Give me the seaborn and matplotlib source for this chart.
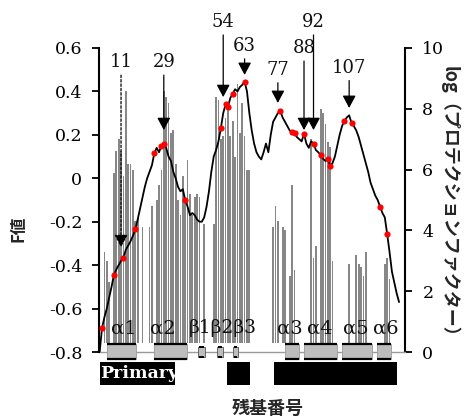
import numpy as np
import pandas as pd
import matplotlib
matplotlib.use("Agg")
import matplotlib.pyplot as plt
from matplotlib.patches import Rectangle
import seaborn as sns

# ----------------------------------------------------------------------
# data
# ----------------------------------------------------------------------
residues = list(range(2, 129))
f_values = [
    -0.80, -0.69, -0.64, -0.60, -0.55, -0.50, -0.446, -0.42, -0.40, -0.38,
    -0.365, -0.33, -0.31, -0.29, -0.265, -0.235, -0.19, -0.14, -0.09, -0.04,
    0.00, 0.03, 0.06, 0.115, 0.14, 0.12, 0.15, 0.16, 0.14, 0.10,
    0.08, 0.03, 0.00, -0.04, -0.06, -0.05, -0.10, -0.13, -0.17, -0.16,
    -0.17, -0.19, -0.20, -0.20, -0.18, -0.13, -0.06, 0.03, 0.10, 0.13,
    0.17, 0.23, 0.30, 0.34, 0.33, 0.37, 0.39, 0.41, 0.40, 0.42,
    0.43, 0.445, 0.40, 0.30, 0.22, 0.16, 0.12, 0.10, 0.087, 0.12,
    0.16, 0.12, 0.20, 0.26, 0.28, 0.30, 0.31, 0.28, 0.26, 0.24,
    0.22, 0.212, 0.207, 0.19, 0.18, 0.17, 0.205, 0.16, 0.14, 0.17,
    0.16, 0.13, 0.12, 0.107, 0.09, 0.08, 0.09, 0.058, 0.07, 0.10,
    0.15, 0.20, 0.24, 0.265, 0.28, 0.29, 0.255, 0.24, 0.22, 0.19,
    0.15, 0.11, 0.07, 0.03, -0.02, -0.05, -0.08, -0.10, -0.13, -0.16,
    -0.18, -0.257, -0.34, -0.43, -0.48, -0.53, -0.57,
]
red_residues = [3, 8, 12, 17, 25, 28, 29, 38, 53, 55, 56, 58, 63, 78, 83, 84,
                88, 92, 95, 98, 99, 105, 108, 120, 123]

bar_residues = [4, 5, 6, 8, 9, 10, 11, 12, 13, 14, 15, 16, 17, 18, 20, 23, 24,
                26, 27, 28, 29, 30, 31, 32, 33, 34, 35, 36, 37, 38, 39, 40, 41,
                42, 43, 44, 46, 50, 51, 52, 53, 54, 55, 56, 57, 58, 59, 60, 61,
                62, 63, 64, 65, 75, 76, 77, 79, 80, 82, 83, 84, 91, 92, 93, 95,
                96, 97, 98, 99, 100, 107, 110, 111, 112, 113, 114, 122, 123, 124]
log_pf = [3.3, 3.0, 2.3, 5.9, 6.6, 7.0, 6.6, 5.8, 8.6, 6.2, 6.2, 6.0, 4.3, 4.4,
          4.1, 4.1, 4.8, 5.0, 5.5, 6.0, 8.6, 8.4, 8.2, 7.2, 7.3, 6.2, 5.0, 4.5,
          5.8, 4.9, 6.3, 5.2, 4.5, 5.1, 5.2, 5.1, 4.2, 4.2, 8.4, 8.3, 7.0, 7.1,
          7.7, 8.0, 7.1, 7.6, 6.4, 8.8, 7.2, 8.2, 7.1, 6.0, 6.0, 4.1, 4.8, 4.3,
          4.1, 4.0, 2.5, 5.5, 2.7, 7.0, 3.1, 3.5, 8.0, 7.85, 7.5, 6.9, 6.75,
          3.0, 2.9, 3.2, 2.9, 2.8, 2.5, 3.3, 2.9, 3.1, 2.4]

arrow_residues = [11, 29, 54, 63, 77, 88, 92, 107]
arrow_label_y = [0.535, 0.535, 0.72, 0.61, 0.50, 0.60, 0.72, 0.51]
arrow_tip_y = [-0.317, 0.222, 0.374, 0.476, 0.347, 0.222, 0.222, 0.324]

helix_names = ["α1", "α2", "α3", "α4", "α5", "α6"]
helix_start = [5.0, 24.7, 80.0, 88.0, 103.9, 118.7]
helix_end = [17.2, 38.6, 86.0, 101.8, 116.5, 124.7]
helix_label_x = [12.3, 28.5, 82.1, 94.8, 110.0, 122.6]
strand_start = [43.5, 51.3, 58.3]
strand_end = [46.4, 54.0, 60.1]
block_start = [2.2, 55.5, 75.4]
block_end = [33.7, 65.3, 127.3]

left_ticks = [-0.8, -0.6, -0.4, -0.2, 0, 0.2, 0.4, 0.6]
left_tick_labels = ["-0.8", "-0.6", "-0.4", "-0.2", "0", "0.2", "0.4", "0.6"]
right_ticks = [0, 2, 4, 6, 8, 10]

df_f = pd.DataFrame({"residue": residues, "F": f_values})
df_red = df_f[df_f["residue"].isin(red_residues)]
df_bar = pd.DataFrame({"residue": bar_residues, "logpf": log_pf})

# ----------------------------------------------------------------------
# figure
# ----------------------------------------------------------------------
sns.set_theme(style="white")
plt.rcParams["font.family"] = ["DejaVu Serif"]
plt.rcParams["axes.unicode_minus"] = False
JP = ["Noto Sans CJK JP", "DejaVu Sans"]
SERIF = "DejaVu Serif"

W, H = 472, 419
fig = plt.figure(figsize=(W / 100, H / 100), dpi=100)
ax1 = fig.add_axes([99 / W, 1 - 352 / H, 306 / W, 304 / H])
ax2 = ax1.twinx()

XMIN, XMAX = 1.73, 130.5
BAR_BASE = 0.3

# protection factor bars (right axis)
ax2.bar(df_bar["residue"], df_bar["logpf"] - BAR_BASE, bottom=BAR_BASE,
        width=0.75, color="#878787", linewidth=0)
ax2.set_ylim(0, 10)
ax2.set_yticks(right_ticks)
ax2.set_yticklabels([str(t) for t in right_ticks])

# F value curve (left axis, drawn on top)
ax1.set_zorder(ax2.get_zorder() + 1)
ax1.patch.set_visible(False)
sns.lineplot(data=df_f, x="residue", y="F", ax=ax1, color="black",
             linewidth=1.3, zorder=3)
sns.scatterplot(data=df_red, x="residue", y="F", ax=ax1, color="#ff0000",
                s=20, linewidth=0, zorder=4)
ax1.set_xlim(XMIN, XMAX)
ax1.set_ylim(-0.8, 0.6)
ax1.set_yticks(left_ticks)
ax1.set_yticklabels(left_tick_labels)
ax1.set_xticks([])
ax1.set_xlabel("")
ax1.set_ylabel("")

for ax in (ax1, ax2):
    for side in ("top", "bottom"):
        ax.spines[side].set_visible(False)
    ax.grid(False)
ax1.spines["right"].set_visible(False)
ax2.spines["left"].set_visible(False)
ax1.spines["left"].set_color("black")
ax1.spines["left"].set_linewidth(1.5)
ax2.spines["right"].set_color("black")
ax2.spines["right"].set_linewidth(1.5)
ax1.tick_params(axis="y", direction="out", length=5, width=1.3, pad=7,
                labelsize=12.5, left=True, right=False, colors="black")
ax2.tick_params(axis="y", direction="out", length=5, width=1.3, pad=7.5,
                labelsize=12.5, left=False, right=True, colors="black")
for lbl in ax1.get_yticklabels() + ax2.get_yticklabels():
    lbl.set_fontfamily(SERIF)

# baseline
ax1.plot([XMIN, XMAX], [-0.8, -0.8], color="#9a9a9a", linewidth=1.0,
         clip_on=False, zorder=1)

# arrows
for r, ly, ty in zip(arrow_residues, arrow_label_y, arrow_tip_y):
    ax1.text(r, ly, str(r), ha="center", va="center", fontsize=13,
             family=SERIF, color="#111111", clip_on=False)
    dashed = r == arrow_residues[0]
    ax1.annotate("", xy=(r, ty), xytext=(r, ly - 0.06),
                 arrowprops=dict(arrowstyle="-|>,head_length=0.75,head_width=0.4",
                                 color="black", lw=0.9,
                                 linestyle=(0, (2, 1.5)) if dashed else "-",
                                 shrinkA=0, shrinkB=0, mutation_scale=10),
                 annotation_clip=False, zorder=5)

# secondary structure
BOX_TOP, BOX_BOT = -0.763, -0.8325
for s, e in zip(helix_start, helix_end):
    ax1.add_patch(Rectangle((s, BOX_BOT), e - s, BOX_TOP - BOX_BOT,
                            facecolor="#bdbdbd", edgecolor="#9a9a9a",
                            linewidth=0.6, clip_on=False, zorder=2))
    ax1.plot([s, e], [BOX_TOP, BOX_TOP], color="black", lw=1.6,
             clip_on=False, zorder=2, solid_capstyle="butt")
    ax1.plot([s, e], [BOX_BOT, BOX_BOT], color="black", lw=1.6,
             clip_on=False, zorder=2, solid_capstyle="butt")
for s, e in zip(strand_start, strand_end):
    ax1.add_patch(Rectangle((s, -0.825), e - s, 0.05,
                            facecolor="#bdbdbd", edgecolor="#555555",
                            linewidth=0.6, clip_on=False, zorder=2))
    ax1.plot([s + 0.4, e - 0.4], [-0.775, -0.775], color="black", lw=1.4,
             clip_on=False, zorder=2, solid_capstyle="butt")
    ax1.plot([s + 0.4, e - 0.4], [-0.825, -0.825], color="black", lw=1.4,
             clip_on=False, zorder=2, solid_capstyle="butt")

for name, x in zip(helix_names, helix_label_x):
    ax1.text(x, -0.69, name, ha="center", va="center", fontsize=14,
             family=SERIF, color="#111111", zorder=6)
ax1.text(53.7, -0.69, "β1β2β3", ha="center", va="center", fontsize=13.5,
         family=SERIF, color="#111111", zorder=6)

for s, e in zip(block_start, block_end):
    ax1.add_patch(Rectangle((s, -0.952), e - s, 0.106, facecolor="black",
                            edgecolor="none", clip_on=False, zorder=2))
ax1.text((block_start[0] + block_end[0]) / 2 + 0.8, -0.899, "Primary",
         ha="center", va="center", fontsize=12.5, family=SERIF,
         fontweight="bold", color="white", zorder=6)

# axis titles
fig.text(18 / W, 1 - 229 / H, "F値", rotation=90, ha="center", va="center",
         fontsize=12, fontweight="bold", family=JP)
fig.text(449 / W, 1 - 206 / H, "log（プロテクションファクター）", rotation=-90,
         ha="center", va="center", fontsize=13, fontweight="bold", family=JP)
fig.text(268 / W, 1 - 408 / H, "残基番号", ha="center", va="center",
         fontsize=13, fontweight="bold", family=JP)

fig.savefig("out.png", dpi=100)
plt.close(fig)
